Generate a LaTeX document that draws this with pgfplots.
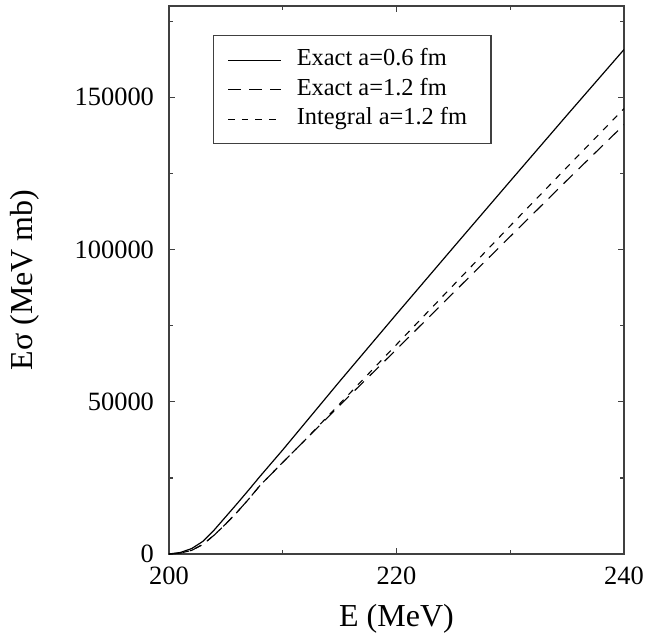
\documentclass[border=0pt]{standalone}
\usepackage{pgfplots}
\pgfplotsset{compat=1.18}
\usepackage{fontspec}
\setmainfont{Liberation Serif}

\begin{document}
\begin{tikzpicture}
\begin{axis}[
  at={(0,0)}, anchor=south west,
  scale only axis, width=227.5pt, height=274pt,
  xmin=200, xmax=240, ymin=0, ymax=180000,
  xtick={200,220,240}, ytick={0,50000,100000,150000},
  minor xtick={210,230}, minor ytick={25000,75000,125000,175000},
  scaled y ticks=false,
  /pgf/number format/assume math mode=true,
  yticklabel style={/pgf/number format/fixed, /pgf/number format/1000 sep={}, xshift=-4pt},
  xticklabel style={yshift=-3pt},
  tick label style={font=\fontsize{13.2}{15}\selectfont},
  major tick length=3pt, minor tick length=1.8pt,
  axis line style={black!75, line width=0.75pt},
  tick style={black!75, line width=0.6pt},
  xlabel={E (MeV)}, ylabel={Eσ (MeV mb)},
  every axis x label/.style={at={(axis description cs:0.5,-0.133)}, anchor=base, font=\fontsize{16}{18}\selectfont},
  every axis y label/.style={at={(axis description cs:-0.299,0.5)}, rotate=90, anchor=base, font=\fontsize{16}{18}\selectfont},
  legend style={at={(axis description cs:0.0967,0.947)}, anchor=north west,
    draw=black!75, line width=0.6pt, inner xsep=7pt, inner ysep=5pt,
    font=\fontsize{12.2}{14}\selectfont, row sep=0pt, column sep=7.5pt,
    nodes={inner sep=0pt, text height=10pt, text depth=4.7pt}},
  legend cell align=left,
  legend image code/.code={\draw[#1] (0pt,0pt) -- (26.5pt,0pt);},
]
\addplot[black, line width=0.6pt] coordinates {
(200,0) (201,500) (202,1800) (203,4200) (204,8000) (205,12300) (206,16600)
(207,21000) (208,25500) (210,34200) (215,56700) (220,78800) (225,100700)
(230,122500) (235,144200) (240,165700)};
\addlegendentry{Exact a=0.6 fm\hspace*{5pt}}
\addplot[black, line width=0.55pt, dash pattern=on 6.5pt off 4pt] coordinates {
(200,0) (201,300) (202,1200) (203,3200) (204,6300) (205,9900) (206,13800)
(207,18000) (208,22500) (209,26300) (210,30100) (212,37600) (216,52500)
(220,67200) (225,85800) (230,104300) (235,122800) (240,141000)};
\addlegendentry{Exact a=1.2 fm\hspace*{5pt}}
\addplot[black, line width=0.55pt, dash pattern=on 3.3pt off 3.5pt] coordinates {
(200,0) (201,300) (202,1200) (203,3200) (204,6300) (205,9900) (206,13800)
(207,18000) (208,22500) (209,26300) (210,30100) (212,37600) (216,53200)
(220,68800) (225,88300) (230,107800) (235,127100) (240,146300)};
\addlegendentry{Integral a=1.2 fm\hspace*{5pt}}
\end{axis}
\pgfresetboundingbox
\path[use as bounding box] (-84.5pt,-40pt) rectangle (239pt,277pt);
\end{tikzpicture}
\end{document}
